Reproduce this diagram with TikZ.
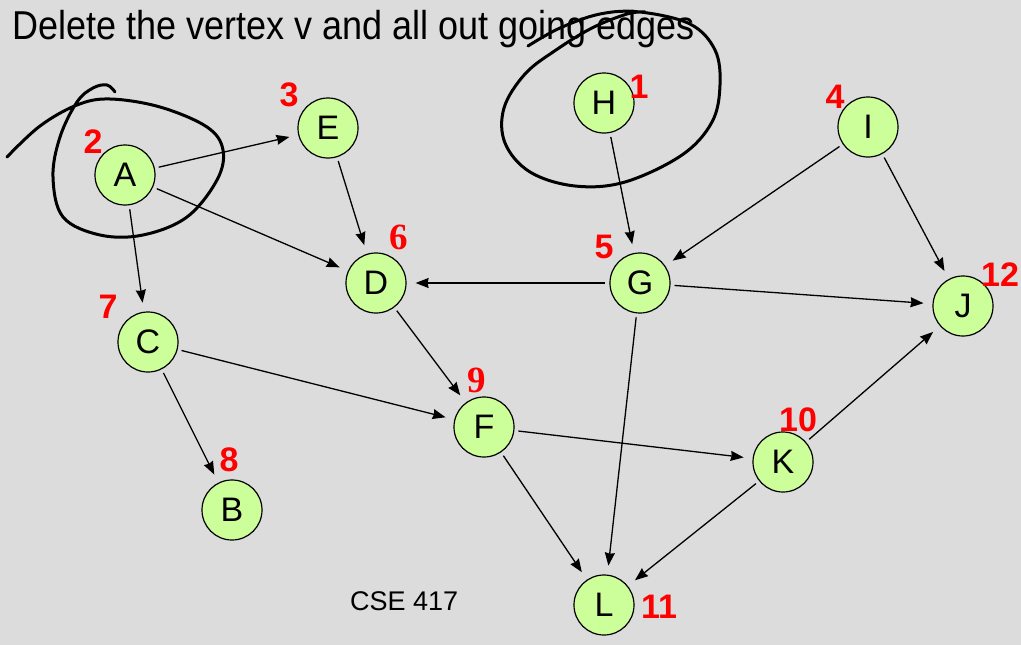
\documentclass[tikz,border=0pt]{standalone}
\usepackage{fontspec}
\setmainfont{Liberation Sans}
\newfontfamily\serifnum{Liberation Serif}
\usetikzlibrary{arrows.meta}
\definecolor{bg}{RGB}{220,220,220}
\definecolor{nodegreen}{RGB}{204,255,153}
\begin{document}
\begin{tikzpicture}[x=1pt,y=-1pt,
  vtx/.style={circle,draw=black,line width=1.2pt,fill=nodegreen,minimum size=60pt,inner sep=0pt,font=\fontsize{34}{36}\selectfont},
  num/.style={text=red,inner sep=0pt,font=\fontsize{34}{36}\selectfont\bfseries},
  snum/.style={text=red,inner sep=0pt,font=\fontsize{37}{38}\selectfont\serifnum\bfseries},
  edge/.style={line width=1.3pt,-{Stealth[length=13pt,width=10pt,inset=1pt]},shorten <=4pt,shorten >=9pt},
  hand/.style={line width=3pt,line cap=round,line join=round}]
\fill[bg] (0,0) rectangle (1021,645);
\useasboundingbox (0,0) rectangle (1021,645);
\node[anchor=base west,inner sep=0pt,font=\fontsize{36}{40}\selectfont] (title) at (12,39) {\scalebox{1}[1.12]{Delete the vertex v and all out going edges}};
\node[anchor=base west,inner sep=0pt,font=\fontsize{27}{30}\selectfont] (cse) at (350,610) {CSE 417};
% vertices
\node[vtx] (A) at (125,175) {A};
\node[vtx] (E) at (328,128) {E};
\node[vtx] (H) at (604,103) {H};
\node[vtx] (I) at (868,127) {I};
\node[vtx] (D) at (376,283) {D};
\node[vtx] (G) at (640,283) {G};
\node[vtx] (J) at (963,306) {J};
\node[vtx] (C) at (148,342) {C};
\node[vtx] (F) at (484,427) {F};
\node[vtx] (K) at (783,462) {K};
\node[vtx] (B) at (232,510) {B};
\node[vtx] (L) at (604,605) {L};
% order numbers
\node[num] (n1) at (639,87) {1};
\node[num] (n2) at (93,142) {2};
\node[num] (n3) at (289,95) {3};
\node[num] (n4) at (835,97) {4};
\node[num] (n5) at (604,247) {5};
\node[snum] (n6) at (399,237) {6};
\node[num] (n7) at (108,307) {7};
\node[num] (n8) at (229,460) {8};
\node[snum] (n9) at (477,380) {9};
\node[num] (n10) at (798,420) {10};
\node[num] (n11) at (659,607) {11};
\node[num] (n12) at (1000,275) {12};
% edges
\draw[edge] (A) -- (E);
\draw[edge] (A) -- (D);
\draw[edge] (A) -- (C);
\draw[edge] (E) -- (D);
\draw[edge] (H) -- (G);
\draw[edge] (I) -- (G);
\draw[edge] (I) -- (J);
\draw[edge] (G) -- (D);
\draw[edge] (G) -- (J);
\draw[edge] (G) -- (L);
\draw[edge] (D) -- (F);
\draw[edge] (C) -- (F);
\draw[edge] (C) -- (B);
\draw[edge] (F) -- (K);
\draw[edge] (F) -- (L);
\draw[edge] (K) -- (J);
\draw[edge] (K) -- (L);
% hand-drawn loops
\draw[hand] plot[smooth,tension=0.6] coordinates {(7,157) (40,126) (77,105) (110,99) (160,107) (207,127) (223,150) (217,180) (187,217) (143,235) (100,235) (63,217) (53,177) (60,137) (77,102) (93,88) (107,85) (115,92)};
\draw[hand] plot[smooth,tension=0.6] coordinates {(528,46) (560,28) (600,14) (640,12) (690,24) (715,50) (720,85) (712,122) (682,155) (625,182) (575,186) (530,172) (505,143) (504,108) (525,74) (556,50) (592,28) (627,14) (645,12)};
\end{tikzpicture}
\end{document}
